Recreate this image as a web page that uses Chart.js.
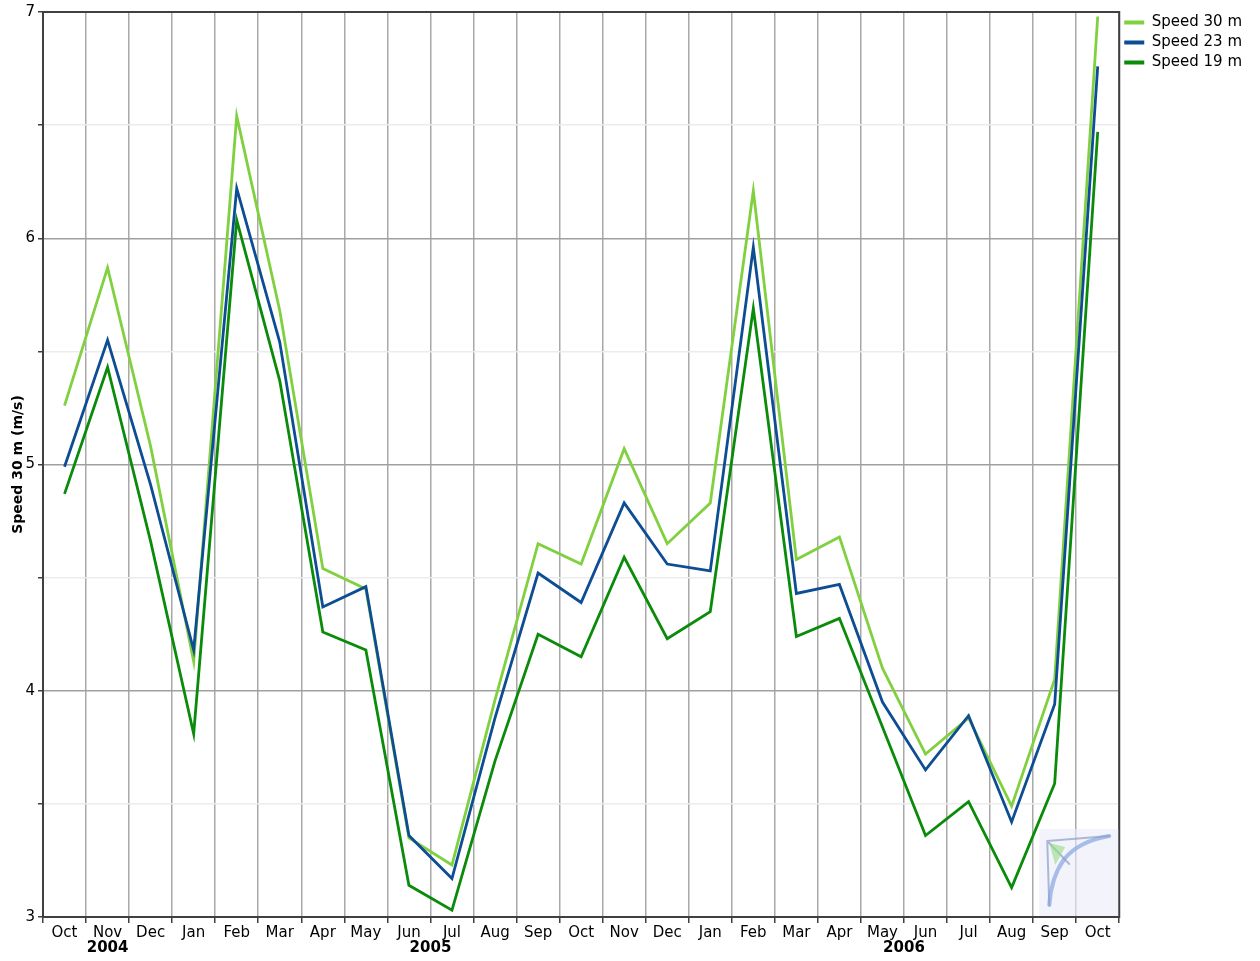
<!DOCTYPE html>
<html>
<head>
<meta charset="utf-8">
<script src="https://cdn.jsdelivr.net/npm/chart.js@4.4.1/dist/chart.umd.min.js"></script>
<style>
  html, body { margin: 0; padding: 0; background: #fff; }
</style>
</head>
<body>
<canvas id="chart" width="1260" height="961"></canvas>
<script>
// monthly mean wind speed, Oct 2004 .. Oct 2006
var months = ['Oct', 'Nov', 'Dec', 'Jan', 'Feb', 'Mar', 'Apr', 'May', 'Jun', 'Jul', 'Aug', 'Sep',
	'Oct', 'Nov', 'Dec', 'Jan', 'Feb', 'Mar', 'Apr', 'May', 'Jun', 'Jul', 'Aug', 'Sep', 'Oct'];
var years = ['2004', '2005', '2006'];
var yearAt = [1, 8.5, 19.5]; // category index under which the year is written

var speed30 = [5.26, 5.87, 5.08, 4.13, 6.54, 5.68, 4.54, 4.45, 3.35, 3.23, 3.96, 4.65, 4.56,
	5.07, 4.65, 4.83, 6.21, 4.58, 4.68, 4.10, 3.72, 3.88, 3.49, 4.05, 6.98];
var speed23 = [4.99, 5.55, 4.91, 4.18, 6.22, 5.54, 4.37, 4.46, 3.36, 3.17, 3.88, 4.52, 4.39,
	4.83, 4.56, 4.53, 5.96, 4.43, 4.47, 3.95, 3.65, 3.89, 3.42, 3.94, 6.76];
var speed19 = [4.87, 5.43, 4.66, 3.81, 6.08, 5.37, 4.26, 4.18, 3.14, 3.03, 3.69, 4.25, 4.15,
	4.59, 4.23, 4.35, 5.69, 4.24, 4.32, 3.84, 3.36, 3.51, 3.13, 3.59, 6.47];

Chart.defaults.font.family = 'DejaVu Sans';
Chart.defaults.font.size = 15;
Chart.defaults.color = '#000';

// dark frame round the plot area
var framePlugin = {
	id: 'frame',
	beforeDatasetsDraw: function (chart) {
		var a = chart.chartArea, c = chart.ctx;
		c.save();
		c.strokeStyle = '#404040';
		c.lineWidth = 2;
		c.strokeRect(a.left, a.top, a.right - a.left, a.bottom - a.top);
		c.restore();
	}
};

// faint logo in the lower right corner
var logoPlugin = {
	id: 'logo',
	beforeDatasetsDraw: function (chart) {
		var a = chart.chartArea, c = chart.ctx;
		var x0 = a.right - 80, y0 = a.bottom - 88;
		c.save();
		c.fillStyle = 'rgba(235,235,248,0.6)';
		c.fillRect(x0, y0, 79, 87);
		c.lineCap = 'round';
		c.strokeStyle = 'rgba(150,175,230,0.8)';
		c.lineWidth = 4;
		c.beginPath();
		c.moveTo(x0 + 70, y0 + 7);
		c.quadraticCurveTo(x0 + 40, y0 + 12, x0 + 25, y0 + 30);
		c.quadraticCurveTo(x0 + 12, y0 + 48, x0 + 10, y0 + 76);
		c.stroke();
		c.lineWidth = 2;
		c.strokeStyle = 'rgba(140,160,200,0.7)';
		c.beginPath();
		c.moveTo(x0 + 8, y0 + 12);
		c.lineTo(x0 + 70, y0 + 7);
		c.moveTo(x0 + 8, y0 + 12);
		c.lineTo(x0 + 10, y0 + 76);
		c.moveTo(x0 + 8, y0 + 12);
		c.lineTo(x0 + 30, y0 + 35);
		c.stroke();
		c.fillStyle = 'rgba(150,220,130,0.6)';
		c.beginPath();
		c.moveTo(x0 + 10, y0 + 14);
		c.lineTo(x0 + 26, y0 + 18);
		c.lineTo(x0 + 16, y0 + 36);
		c.closePath();
		c.fill();
		c.restore();
	}
};

// bold year row under the month labels
var yearPlugin = {
	id: 'years',
	afterDraw: function (chart) {
		var x = chart.scales.x, c = chart.ctx;
		c.save();
		c.font = 'bold 15px "DejaVu Sans"';
		c.fillStyle = '#000';
		c.textAlign = 'center';
		c.textBaseline = 'middle';
		for (var i = 0; i < years.length; i++) {
			var lo = Math.floor(yearAt[i]), hi = Math.ceil(yearAt[i]);
			var px = (x.getPixelForValue(lo) + x.getPixelForValue(hi)) / 2;
			c.fillText(years[i], px, x.bottom - 13);
		}
		c.restore();
	}
};

var ctx = document.getElementById('chart').getContext('2d');
var chart = new Chart(ctx, {
	type: 'line',
	data: {
		labels: months,
		datasets: [{
			label: 'Speed 30 m',
			data: speed30,
			borderColor: '#80d040',
			backgroundColor: '#80d040',
			order: 1
		}, {
			label: 'Speed 23 m',
			data: speed23,
			borderColor: '#0d4d94',
			backgroundColor: '#0d4d94',
			order: 0
		}, {
			label: 'Speed 19 m',
			data: speed19,
			borderColor: '#0a8c0a',
			backgroundColor: '#0a8c0a',
			order: 2
		}]
	},
	options: {
		responsive: false,
		animation: false,
		elements: {
			line: { borderWidth: 2.8, tension: 0 },
			point: { radius: 0, hoverRadius: 0 }
		},
		layout: { padding: { top: 10, right: 8, bottom: 0, left: 0 } },
		plugins: {
			tooltip: { enabled: false },
			legend: {
				position: 'right',
				align: 'start',
				labels: {
					boxWidth: 20,
					boxHeight: 4,
					padding: 5,
					font: { size: 15 },
					sort: function (a, b) { return a.datasetIndex - b.datasetIndex; },
					generateLabels: function (chart) {
						var items = Chart.defaults.plugins.legend.labels.generateLabels(chart);
						items.forEach(function (it) { it.lineWidth = 0; });
						return items;
					}
				}
			}
		},
		scales: {
			x: {
				offset: true,
				grid: { offset: true, color: '#a8a8a8', lineWidth: 1.5, tickLength: 6, tickColor: '#404040' },
				border: { color: '#404040', width: 2 },
				ticks: { maxRotation: 0, autoSkip: false, padding: 1 },
				afterFit: function (scale) { scale.height = 44; }
			},
			y: {
				min: 3,
				max: 7,
				grid: {
					color: function (c) { return c.tick && c.tick.value % 1 === 0 ? '#a0a0a0' : '#ececec'; },
					lineWidth: 1.5,
					tickLength: 5,
					tickColor: '#404040'
				},
				border: { color: '#404040', width: 2 },
				ticks: {
					stepSize: 0.5,
					padding: 3,
					callback: function (v) { return v % 1 === 0 ? v : ''; }
				},
				title: {
					display: true,
					text: 'Speed 30 m (m/s)',
					font: { size: 14, weight: 'bold' },
					padding: { top: 10, bottom: 0 }
				},
				afterFit: function (scale) { scale.width = 43; }
			}
		}
	},
	plugins: [framePlugin, logoPlugin, yearPlugin]
});
</script>
</body>
</html>
